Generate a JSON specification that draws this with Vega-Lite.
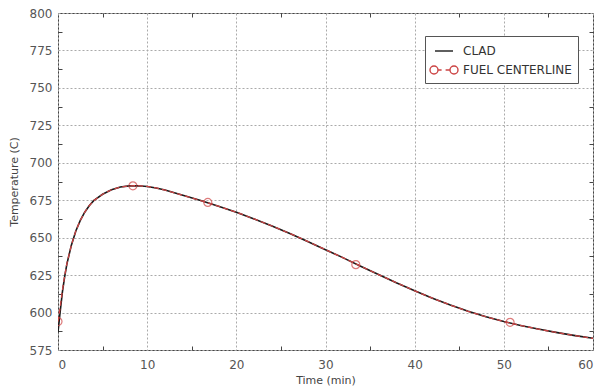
{
  "$schema": "https://vega.github.io/schema/vega-lite/v6.json",
  "width": 535,
  "height": 337,
  "autosize": "none",
  "padding": {"left": 58, "top": 13, "right": 8, "bottom": 41},
  "background": "white",
  "config": {
    "view": {"stroke": "#444", "strokeWidth": 1},
    "font": "DejaVu Sans",
    "axis": {
      "labelFont": "DejaVu Sans",
      "labelFontSize": 12,
      "labelColor": "#555",
      "titleFont": "DejaVu Sans",
      "titleFontSize": 11,
      "titleFontWeight": "normal",
      "titleColor": "#444",
      "tickColor": "#444",
      "tickSize": -4,
      "gridColor": "#aaa",
      "gridDash": [2, 2],
      "gridWidth": 1,
      "domain": false
    }
  },
  "datasets": {
    "curves": [
      {"t": 0, "T": 587, "series": "CLAD"},
      {"t": 0.25, "T": 601, "series": "CLAD"},
      {"t": 0.5, "T": 614, "series": "CLAD"},
      {"t": 0.75, "T": 624, "series": "CLAD"},
      {"t": 1, "T": 632.5, "series": "CLAD"},
      {"t": 1.5, "T": 645, "series": "CLAD"},
      {"t": 2, "T": 654.5, "series": "CLAD"},
      {"t": 2.5, "T": 661.5, "series": "CLAD"},
      {"t": 3, "T": 667, "series": "CLAD"},
      {"t": 3.5, "T": 671.3, "series": "CLAD"},
      {"t": 4, "T": 674.7, "series": "CLAD"},
      {"t": 5, "T": 679, "series": "CLAD"},
      {"t": 6, "T": 682, "series": "CLAD"},
      {"t": 7, "T": 683.8, "series": "CLAD"},
      {"t": 8, "T": 684.6, "series": "CLAD"},
      {"t": 9, "T": 684.7, "series": "CLAD"},
      {"t": 10, "T": 684.2, "series": "CLAD"},
      {"t": 11, "T": 683.2, "series": "CLAD"},
      {"t": 12, "T": 681.8, "series": "CLAD"},
      {"t": 14, "T": 678.3, "series": "CLAD"},
      {"t": 16, "T": 674.8, "series": "CLAD"},
      {"t": 18, "T": 671, "series": "CLAD"},
      {"t": 20, "T": 667, "series": "CLAD"},
      {"t": 22, "T": 662.5, "series": "CLAD"},
      {"t": 24, "T": 657.8, "series": "CLAD"},
      {"t": 26, "T": 652.8, "series": "CLAD"},
      {"t": 28, "T": 647.5, "series": "CLAD"},
      {"t": 30, "T": 642, "series": "CLAD"},
      {"t": 32, "T": 636.5, "series": "CLAD"},
      {"t": 34, "T": 630.8, "series": "CLAD"},
      {"t": 36, "T": 625.2, "series": "CLAD"},
      {"t": 38, "T": 619.8, "series": "CLAD"},
      {"t": 40, "T": 614.5, "series": "CLAD"},
      {"t": 42, "T": 609.6, "series": "CLAD"},
      {"t": 44, "T": 605, "series": "CLAD"},
      {"t": 46, "T": 600.8, "series": "CLAD"},
      {"t": 48, "T": 597.2, "series": "CLAD"},
      {"t": 50, "T": 594, "series": "CLAD"},
      {"t": 52, "T": 591.2, "series": "CLAD"},
      {"t": 54, "T": 588.8, "series": "CLAD"},
      {"t": 56, "T": 586.6, "series": "CLAD"},
      {"t": 58, "T": 584.6, "series": "CLAD"},
      {"t": 60, "T": 582.8, "series": "CLAD"},
      {"t": 0, "T": 594, "series": "FUEL CENTERLINE"},
      {"t": 0.25, "T": 604, "series": "FUEL CENTERLINE"},
      {"t": 0.5, "T": 615, "series": "FUEL CENTERLINE"},
      {"t": 0.75, "T": 624.5, "series": "FUEL CENTERLINE"},
      {"t": 1, "T": 632.8, "series": "FUEL CENTERLINE"},
      {"t": 1.5, "T": 645, "series": "FUEL CENTERLINE"},
      {"t": 2, "T": 654.5, "series": "FUEL CENTERLINE"},
      {"t": 2.5, "T": 661.5, "series": "FUEL CENTERLINE"},
      {"t": 3, "T": 667, "series": "FUEL CENTERLINE"},
      {"t": 3.5, "T": 671.3, "series": "FUEL CENTERLINE"},
      {"t": 4, "T": 674.7, "series": "FUEL CENTERLINE"},
      {"t": 5, "T": 679, "series": "FUEL CENTERLINE"},
      {"t": 6, "T": 682, "series": "FUEL CENTERLINE"},
      {"t": 7, "T": 683.8, "series": "FUEL CENTERLINE"},
      {"t": 8, "T": 684.6, "series": "FUEL CENTERLINE"},
      {"t": 9, "T": 684.7, "series": "FUEL CENTERLINE"},
      {"t": 10, "T": 684.2, "series": "FUEL CENTERLINE"},
      {"t": 11, "T": 683.2, "series": "FUEL CENTERLINE"},
      {"t": 12, "T": 681.8, "series": "FUEL CENTERLINE"},
      {"t": 14, "T": 678.3, "series": "FUEL CENTERLINE"},
      {"t": 16, "T": 674.8, "series": "FUEL CENTERLINE"},
      {"t": 18, "T": 671, "series": "FUEL CENTERLINE"},
      {"t": 20, "T": 667, "series": "FUEL CENTERLINE"},
      {"t": 22, "T": 662.5, "series": "FUEL CENTERLINE"},
      {"t": 24, "T": 657.8, "series": "FUEL CENTERLINE"},
      {"t": 26, "T": 652.8, "series": "FUEL CENTERLINE"},
      {"t": 28, "T": 647.5, "series": "FUEL CENTERLINE"},
      {"t": 30, "T": 642, "series": "FUEL CENTERLINE"},
      {"t": 32, "T": 636.5, "series": "FUEL CENTERLINE"},
      {"t": 34, "T": 630.8, "series": "FUEL CENTERLINE"},
      {"t": 36, "T": 625.2, "series": "FUEL CENTERLINE"},
      {"t": 38, "T": 619.8, "series": "FUEL CENTERLINE"},
      {"t": 40, "T": 614.5, "series": "FUEL CENTERLINE"},
      {"t": 42, "T": 609.6, "series": "FUEL CENTERLINE"},
      {"t": 44, "T": 605, "series": "FUEL CENTERLINE"},
      {"t": 46, "T": 600.8, "series": "FUEL CENTERLINE"},
      {"t": 48, "T": 597.2, "series": "FUEL CENTERLINE"},
      {"t": 50, "T": 594, "series": "FUEL CENTERLINE"},
      {"t": 52, "T": 591.2, "series": "FUEL CENTERLINE"},
      {"t": 54, "T": 588.8, "series": "FUEL CENTERLINE"},
      {"t": 56, "T": 586.6, "series": "FUEL CENTERLINE"},
      {"t": 58, "T": 584.6, "series": "FUEL CENTERLINE"},
      {"t": 60, "T": 582.8, "series": "FUEL CENTERLINE"}
    ],
    "markers": [
      {"t": 0, "T": 594, "series": "FUEL CENTERLINE"},
      {"t": 8.4, "T": 684.6, "series": "FUEL CENTERLINE"},
      {"t": 16.8, "T": 673.5, "series": "FUEL CENTERLINE"},
      {"t": 33.4, "T": 632, "series": "FUEL CENTERLINE"},
      {"t": 50.7, "T": 593.5, "series": "FUEL CENTERLINE"}
    ]
  },
  "layer": [
    {
      "data": {"name": "curves"},
      "transform": [{"filter": "datum.series === 'CLAD'"}],
      "mark": {"type": "line", "strokeWidth": 1.6, "clip": true},
      "encoding": {
        "x": {
          "field": "t", "type": "quantitative",
          "scale": {"domain": [0, 60], "nice": false, "zero": false},
          "axis": {
            "orient": "bottom",
            "title": "Time (min)",
            "values": [0, 5, 10, 15, 20, 25, 30, 35, 40, 45, 50, 55, 60],
            "labelExpr": "datum.value % 10 === 0 ? datum.label : ''",
            "labelPadding": 13,
            "tickOpacity": {"expr": "datum.value % 10 === 0 ? 0 : 1"},
            "gridOpacity": {"expr": "datum.value % 10 === 0 ? 1 : 0"},
            "titlePadding": 4
          }
        },
        "y": {
          "field": "T", "type": "quantitative",
          "scale": {"domain": [575, 800], "nice": false, "zero": false},
          "axis": {
            "orient": "left",
            "title": "Temperature (C)",
            "values": [575, 587.5, 600, 612.5, 625, 637.5, 650, 662.5, 675, 687.5, 700, 712.5, 725, 737.5, 750, 762.5, 775, 787.5, 800],
            "labelExpr": "datum.value % 25 === 0 ? datum.label : ''",
            "labelPadding": 10,
            "tickOpacity": {"expr": "datum.value % 25 === 0 ? 0 : 1"},
            "gridOpacity": {"expr": "datum.value % 25 === 0 ? 1 : 0"},
            "titlePadding": 10
          }
        },
        "color": {
          "field": "series", "type": "nominal",
          "scale": {"domain": ["CLAD", "FUEL CENTERLINE"], "range": ["#1a1a1a", "#cc4444"]},
          "legend": {
            "title": null,
            "orient": "none",
            "legendX": 367,
            "legendY": 23,
            "strokeColor": "#555",
            "fillColor": "white",
            "padding": 6,
            "symbolOffset": 4,
            "symbolSize": 256,
            "symbolStrokeWidth": 1.4,
            "rowPadding": 4,
            "labelOffset": 10,
            "labelFont": "DejaVu Sans",
            "labelFontSize": 12,
            "labelColor": "#333",
            "encode": {
              "symbols": {
                "update": {
                  "shape": {"signal": "datum.value === 'CLAD' ? 'M -1.125 0 L 1.125 0' : 'M -1.75 0 A 0.5 0.5 0 1 0 -0.75 0 A 0.5 0.5 0 1 0 -1.75 0 M -0.75 0 L -0.3 0 M 0.2 0 L 0.75 0 M 0.75 0 A 0.5 0.5 0 1 0 1.75 0 A 0.5 0.5 0 1 0 0.75 0'"},
                  "strokeDash": {"value": []},
                  "fill": {"value": "transparent"}
                }
              }
            }
          }
        }
      }
    },
    {
      "data": {"name": "curves"},
      "transform": [{"filter": "datum.series === 'FUEL CENTERLINE'"}],
      "mark": {"type": "line", "strokeWidth": 1.3, "strokeDash": [5, 3], "clip": true},
      "encoding": {
        "x": {
          "field": "t", "type": "quantitative",
          "axis": {
            "orient": "top",
            "title": null,
            "labels": false,
            "grid": false,
            "values": [5, 15, 25, 35, 45, 55]
          }
        },
        "y": {
          "field": "T", "type": "quantitative",
          "axis": {
            "orient": "right",
            "title": null,
            "labels": false,
            "grid": false,
            "values": [587.5, 612.5, 637.5, 662.5, 687.5, 712.5, 737.5, 762.5, 787.5]
          }
        },
        "color": {"field": "series", "type": "nominal"}
      }
    },
    {
      "data": {"name": "markers"},
      "mark": {"type": "point", "shape": "circle", "filled": false, "size": 64, "strokeWidth": 1.2, "color": "#d04444", "clip": true},
      "encoding": {
        "x": {"field": "t", "type": "quantitative", "axis": null},
        "y": {"field": "T", "type": "quantitative", "axis": null}
      }
    }
  ]
}
